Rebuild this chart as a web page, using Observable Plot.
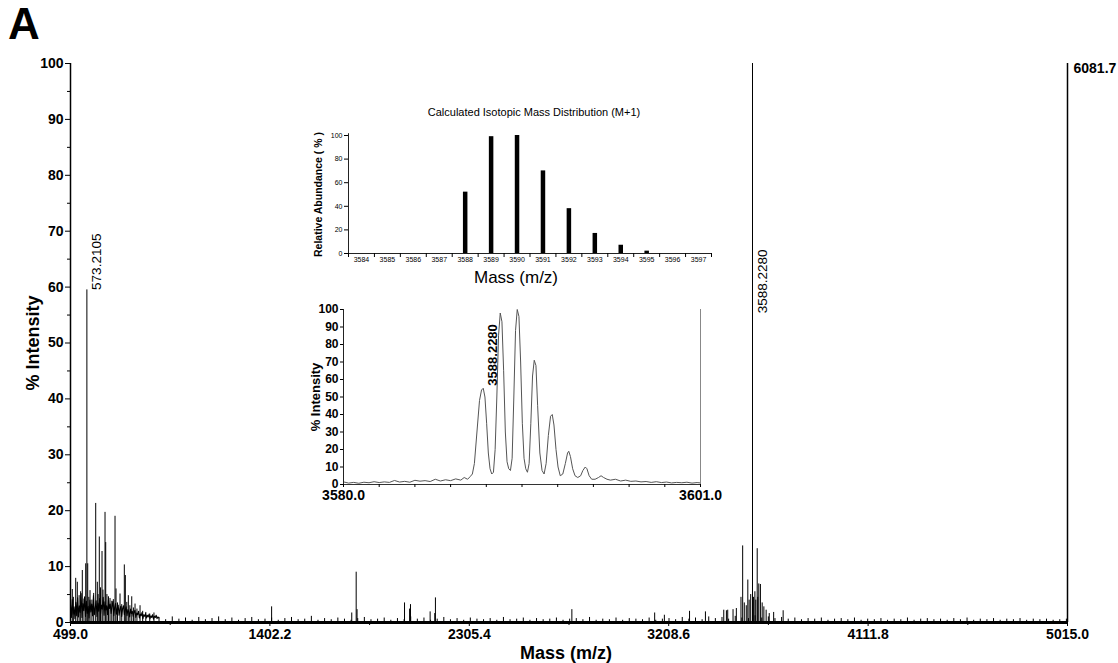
<!DOCTYPE html>
<html><head><meta charset="utf-8">
<script src="https://cdn.jsdelivr.net/npm/d3@7"></script>
<script src="https://cdn.jsdelivr.net/npm/@observablehq/plot@0.6"></script>
<style>
body{margin:0;background:#fff;font-family:"Liberation Sans",Arial,sans-serif}
#wrap{position:relative;width:1118px;height:663px;overflow:hidden;background:#fff}
#panel{position:absolute;left:8px;top:-2px;font-size:44px;font-weight:bold;line-height:52px}
</style></head><body>
<div id="wrap"><div id="panel">A</div></div>
<script>
// ---------- main spectrum data ----------
const mainXTicks = [499.0, 1402.2, 2305.4, 3208.6, 4111.8, 5015.0];
const mainXMinor = [950.6, 1853.8, 2757.0, 3660.2, 4563.4];
const mainYTicks = [0,10,20,30,40,50,60,70,80,90,100];
const mainYMinor = [5,15,25,35,45,55,65,75,85,95];
const maxCounts = "6081.7";

const peakMass = [507.2,512,522.6,529.8,538,545,552.5,560,567.9,573.2105,577,582,587.4,596,604,613.2,620.5,624,629.5,635,641.8,646,655.4,658.5,664,671,678,686,693,700.7,705.2,712,723.3,731,742.8,747.4,754,761,768,776.4,784,791.3,800,814,826,840,858,877,
  1410,1773,1793,1797,2012,2035,2039,2128,2149,2152,2770,3145,3189,3303,3375,3458,3476,
  3470,3500,3515,3536,3543.6,3551,3560,3567,3573,3580,3588.228,3593,3599,3603,3609.5,3612,3616.7,3624,3632,3639.7,3650,3664,3684,3727];
const peakIntensity = [5.9,4.5,7.9,7.2,4.8,5.5,9.3,4.2,10.5,59.5,10.5,4.5,5.7,4.0,5.2,21.3,7.2,5.0,15.3,6.2,12.7,5.8,19.7,14.3,5.0,4.6,4.3,3.8,4.1,19.0,6.0,3.5,5.1,3.2,10.3,8.4,3.6,4.8,3.0,4.6,2.6,3.3,2.4,3.0,2.0,1.8,1.5,1.7,
  2.8,1.7,9.0,2.3,3.5,2.4,3.2,1.9,1.6,4.4,2.3,1.7,1.3,2.0,1.9,2.2,2.2,
  2.1,2.3,2.5,4.5,13.7,3.5,3.0,7.6,4.0,5.0,100,4.5,5.5,4.0,13.2,4.5,6.9,6.8,3.5,2.8,2.2,1.6,1.8,2.1];

// baseline noise, 499–899 every 4 m/z
const lowNoiseStart = 499, lowNoiseStep = 4;
const lowNoise = [3.2,0.9,4.1,1.5,2.8,0.7,3.6,1.2,4.4,1.0,
  3.0,1.8,5.2,0.9,3.4,2.1,4.6,1.1,3.8,1.6,
  2.9,0.8,4.0,1.9,3.3,1.2,4.8,1.4,2.6,3.9,
  1.1,3.5,2.0,4.3,1.5,3.1,2.4,4.5,1.3,3.7,
  2.2,3.0,1.4,4.1,2.5,3.3,1.6,2.9,3.8,1.2,
  2.7,3.4,1.5,2.6,3.1,1.3,2.4,2.9,1.1,2.5,
  3.0,1.4,2.2,2.8,1.2,2.3,1.9,1.0,2.4,1.6,
  2.0,1.1,1.8,2.2,0.9,1.7,1.4,2.0,0.8,1.5,
  1.2,1.8,0.7,1.4,1.1,1.6,0.8,1.3,1.0,1.5,
  0.7,1.2,0.9,1.4,0.6,1.1,0.9,1.3,0.7,1.0,0.8];
// baseline noise hairs, 900–5010 every 30 m/z
const highNoiseStart = 900, highNoiseStep = 30;
const highNoise = [0.9,0.5,1.0,0.6,0.8,0.4,0.9,0.5,0.7,1.0,
  0.5,0.8,0.4,0.7,0.9,0.5,0.6,0.8,0.4,0.7,
  0.9,0.5,0.6,1.1,0.4,0.7,0.5,0.8,0.6,0.4,
  0.7,0.9,0.5,0.6,0.8,0.4,0.7,0.5,1.0,0.6,
  0.8,0.4,0.6,0.9,0.5,0.7,0.4,0.8,0.6,0.5,
  0.7,0.4,0.9,0.5,0.6,0.8,0.4,0.7,0.5,0.6,
  0.8,0.4,0.6,0.7,0.5,0.9,0.4,0.6,0.5,0.8,
  0.4,0.7,0.6,0.5,0.8,0.4,0.6,0.7,0.5,0.9,
  0.6,0.8,0.5,1.0,0.7,0.9,0.6,1.1,0.8,0.7,
  1.2,0.8,1.0,0.7,0.9,0.6,0.8,0.5,0.7,0.6,
  0.8,0.4,0.6,0.7,0.5,0.8,0.4,0.6,0.5,0.7,
  0.4,0.6,0.5,0.8,0.4,0.6,0.7,0.5,0.6,0.4,
  0.7,0.5,0.8,0.4,0.6,0.5,0.7,0.4,0.6,0.5,
  0.7,0.4,0.6,0.5,0.6,0.4,0.5,0.6];

const mainLabels = [{mass:573.2105, y:59.5, text:"573.2105"},
                    {mass:3588.228, y:55.3, text:"3588.2280"}];

// ---------- calculated isotope distribution ----------
const isoMass = [3584,3585,3586,3587,3588,3589,3590,3591,3592,3593,3594,3595,3596,3597];
const isoAbundance = [0,0,0,0,52,99,100,70,38,17,7,2,0,0];
const isoYTicks = [0,20,40,60,80,100];
const isoTitle = "Calculated Isotopic Mass Distribution (M+1)";

// ---------- zoomed measured spectrum ----------
const zoomMass = [3580.0,3580.3,3580.6,3580.9,3581.2,3581.5,3581.8,3582.1,3582.4,3582.7,3583.0,3583.3,3583.6,3583.9,3584.2,3584.5,3584.8,3585.1,3585.4,3585.7,3586.0,3586.3,3586.6,3586.9,3587.1,3587.3,3587.45,3587.58,
  3587.7,3587.85,3588.0,3588.12,3588.22,3588.32,3588.42,3588.52,3588.62,3588.72,3588.82,3588.92,3589.02,3589.12,3589.22,3589.32,3589.42,3589.52,3589.62,3589.72,3589.82,3589.92,
  3590.02,3590.12,3590.22,3590.32,3590.42,3590.52,3590.62,3590.72,3590.82,3590.92,3591.02,3591.12,3591.22,3591.32,3591.42,3591.55,3591.68,3591.8,3591.92,3592.05,3592.18,3592.28,3592.38,3592.5,3592.62,3592.75,3592.9,
  3593.05,3593.18,3593.25,3593.35,3593.48,3593.62,3593.78,3593.95,3594.08,3594.22,3594.32,3594.45,3594.6,3594.8,3595.0,3595.15,3595.3,3595.5,3595.7,3596.0,3596.3,3596.6,3596.9,3597.2,3597.5,3597.8,3598.1,3598.4,3598.7,3599.0,3599.3,3599.6,3599.9,3600.2,3600.5,3600.8,3601.0];
const zoomIntensity = [1.5,0.8,1.2,0.7,1.3,1.0,1.6,1.1,1.5,1.2,2.3,1.4,1.8,1.3,2.4,1.9,2.2,1.7,3.0,2.0,2.7,2.2,3.2,2.5,4.0,3.0,4.5,6,
  12,30,48,54,55,50,35,18,9,6,7,20,50,85,98,93,65,30,13,9,8,15,
  50,88,100,96,70,35,15,9,7,12,35,62,71,68,45,18,8,6,12,28,39,40,34,20,10,5,6,
  12,18,19,16,9,5,4,5,8,10,9,5,3,3,4,5,4,3,2.5,3,2,2.5,1.8,2.0,1.5,1.7,1.2,1.6,1.1,1.4,0.9,1.2,1.0,1.3,0.8,1.1,0.9];
const zoomXTicks = [3580.0,3582.1,3584.2,3586.3,3588.4,3590.5,3592.6,3594.7,3596.8,3598.9,3601.0];
const zoomXLabels = [3580.0,3601.0];
const zoomYTicks = [0,10,20,30,40,50,60,70,80,90,100];

// ---------- tables ----------
const sticks = peakMass.map((m,i)=>({mass:m, intensity:peakIntensity[i]}));
const lowNoiseData = lowNoise.map((v,i)=>({mass:lowNoiseStart+lowNoiseStep*i, intensity:v}));
const highNoiseData = highNoise.map((v,i)=>({mass:highNoiseStart+highNoiseStep*i, intensity:v}));
const iso = isoMass.map((m,i)=>({mass:m, abundance:isoAbundance[i]}));
const isoEdges = isoMass.map(m=>m-0.5).concat([isoMass[isoMass.length-1]+0.5]);
const zoomData = zoomMass.map((m,i)=>({mass:m, intensity:zoomIntensity[i]}));

const FONT = "'Liberation Sans', Arial, sans-serif";
const baseStyle = {fontFamily: FONT, background:"transparent", overflow:"visible", color:"black"};
const wrap = document.getElementById("wrap");
function place(el, left, top){ el.style.position="absolute"; el.style.left=left+"px"; el.style.top=top+"px"; wrap.appendChild(el); }

// ---------- main chart ----------
const main = Plot.plot({
  width:1118, height:663, marginLeft:70, marginRight:51, marginTop:63, marginBottom:41,
  style: baseStyle,
  x:{domain:[499,5015], label:null},
  y:{domain:[0,100], label:null},
  marks:[
    Plot.line(lowNoiseData, {x:"mass", y:"intensity", stroke:"black", strokeWidth:1.1}),
    Plot.ruleX(highNoiseData, {x:"mass", y1:0, y2:"intensity", stroke:"black", strokeWidth:1}),
    Plot.ruleX(sticks, {x:"mass", y1:0, y2:"intensity", stroke:"black", strokeWidth:1}),
    Plot.ruleY([0], {stroke:"black", strokeWidth:3}),
    Plot.ruleX([499], {y1:0, y2:100, stroke:"black", strokeWidth:1.5}),
    Plot.ruleX([5015], {y1:0, y2:100, stroke:"black", strokeWidth:1.5}),
    Plot.axisY(mainYTicks, {tickSize:5, tickPadding:2, fontSize:14, fontWeight:"bold", label:null}),
    Plot.axisY(mainYMinor, {tickSize:3, tickFormat:()=>"", label:null}),
    Plot.axisX(mainXTicks, {tickSize:4, tickPadding:3, fontSize:14, fontWeight:"bold", tickFormat:d=>d.toFixed(1), label:null}),
    Plot.axisX(mainXMinor, {tickSize:3, tickFormat:()=>"", label:null}),
    Plot.text(["Mass (m/z)"], {text:d=>d, frameAnchor:"bottom", lineAnchor:"middle", textAnchor:"middle", dy:31, dx:-3, fontSize:18, fontWeight:"bold"}),
    Plot.text(["% Intensity"], {text:d=>d, frameAnchor:"left", textAnchor:"middle", lineAnchor:"middle", rotate:-90, dx:-37, fontSize:18, fontWeight:"bold"}),
    Plot.text([maxCounts], {text:d=>d, x:5015, y:100, dx:6, dy:5, textAnchor:"start", fontSize:14, fontWeight:"bold"}),
    Plot.text(mainLabels, {x:"mass", y:"y", text:"text", rotate:-90, textAnchor:"start", dx:10, fontSize:13.5})
  ]
});
place(main, 0, 0);

// ---------- inset: calculated isotope distribution ----------
const inset1 = Plot.plot({
  width:440, height:200, marginLeft:58, marginRight:19, marginTop:40, marginBottom:42,
  style: baseStyle,
  x:{domain:[3583.5,3597.5], label:null},
  y:{domain:[0,100], label:null},
  marks:[
    Plot.ruleX(iso, {x:"mass", y1:0, y2:"abundance", stroke:"black", strokeWidth:4.5}),
    Plot.ruleY([0], {stroke:"#222"}),
    Plot.ruleX([3583.5], {y1:0, y2:101.5, stroke:"#222"}),
    Plot.axisX(isoEdges, {tickSize:4, tickFormat:()=>"", label:null}),
    Plot.axisX(isoMass, {tickSize:0, tickPadding:4, fontSize:7, tickFormat:d=>String(d), label:null}),
    Plot.axisY(isoYTicks, {tickSize:4, tickPadding:2, fontSize:7, label:null}),
    Plot.text([isoTitle], {text:d=>d, frameAnchor:"top", lineAnchor:"middle", textAnchor:"middle", dy:-23, dx:4, fontSize:11}),
    Plot.text(["Mass (m/z)"], {text:d=>d, frameAnchor:"bottom", lineAnchor:"middle", textAnchor:"middle", dy:24, dx:-14, fontSize:17}),
    Plot.text(["Relative Abundance ( % )"], {text:d=>d, frameAnchor:"left", textAnchor:"middle", lineAnchor:"middle", rotate:-90, dx:-30, fontSize:10.5, fontWeight:"bold"})
  ]
});
place(inset1, 290, 95);

// ---------- inset: measured zoomed spectrum ----------
const inset2 = Plot.plot({
  width:450, height:215, marginLeft:63, marginRight:30, marginTop:19, marginBottom:21,
  style: baseStyle,
  x:{domain:[3580,3601], label:null},
  y:{domain:[0,100], label:null},
  marks:[
    Plot.line(zoomData, {x:"mass", y:"intensity", stroke:"#555", strokeWidth:1}),
    Plot.ruleY([0], {stroke:"#333"}),
    Plot.ruleX([3580], {y1:0, y2:100, stroke:"#222"}),
    Plot.ruleX([3601], {y1:0, y2:100, stroke:"#888"}),
    Plot.axisY(zoomYTicks, {tickSize:3, tickPadding:2, fontSize:12, fontWeight:"bold", label:null}),
    Plot.axisX(zoomXTicks, {tickSize:3, tickFormat:()=>"", label:null}),
    Plot.axisX(zoomXLabels, {tickSize:0, tickPadding:6, fontSize:14, fontWeight:"bold", tickFormat:d=>d.toFixed(1), label:null}),
    Plot.text(["% Intensity"], {text:d=>d, frameAnchor:"left", textAnchor:"middle", lineAnchor:"middle", rotate:-90, dx:-28, fontSize:13, fontWeight:"bold"}),
    Plot.text([{mass:3588.228, y:56.5, text:"3588.2280"}], {x:"mass", y:"y", text:"text", rotate:-90, textAnchor:"start", dx:9, fontSize:13, fontWeight:"bold"})
  ]
});
place(inset2, 280, 290);
</script>
</body></html>
